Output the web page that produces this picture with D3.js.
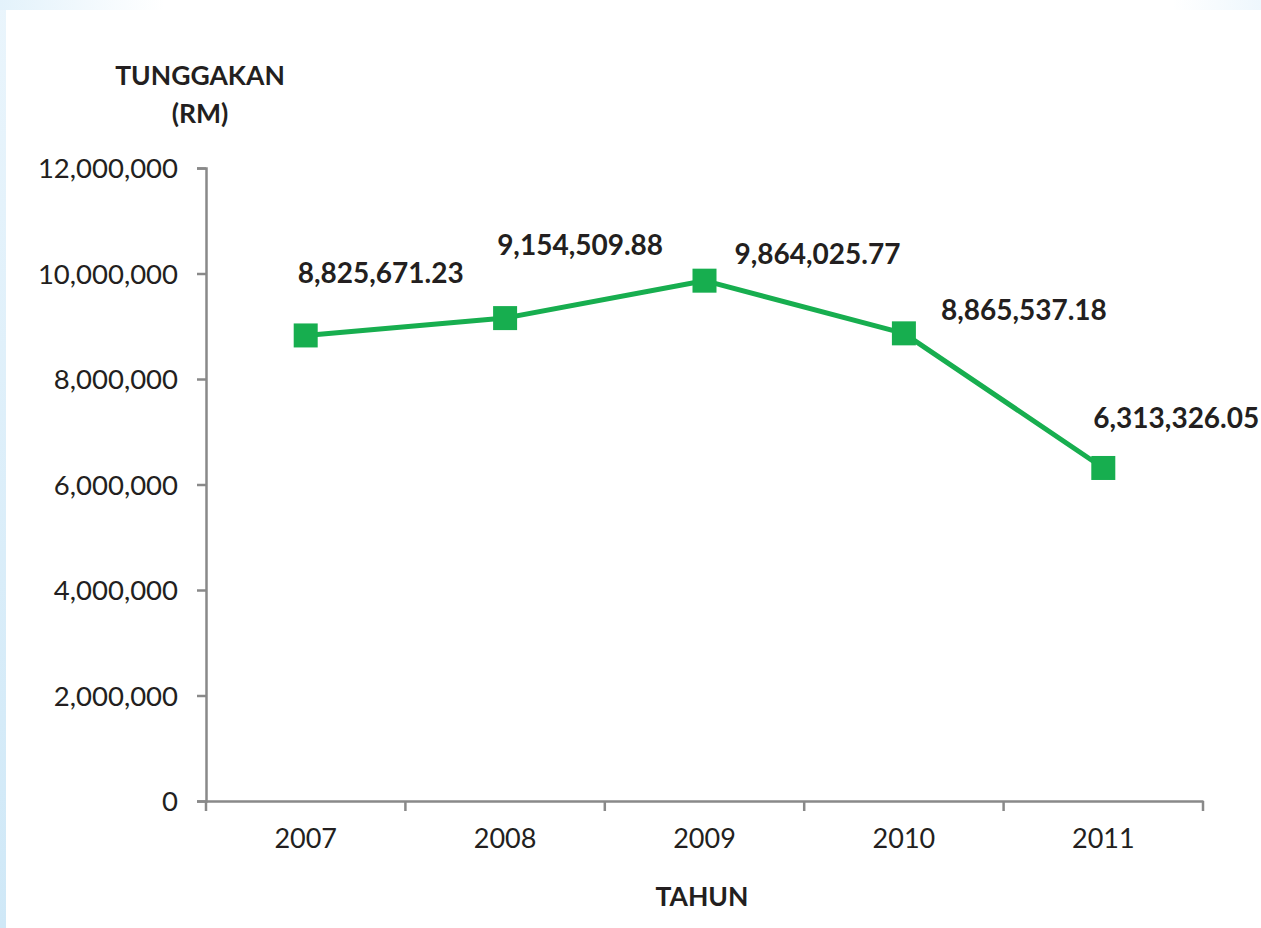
<!DOCTYPE html>
<html><head><meta charset="utf-8">
<script src="https://cdn.jsdelivr.net/npm/d3@7"></script>
<style>
html,body{margin:0;padding:0;background:#fff;}
svg{display:block;}
</style></head>
<body>
<svg id="chart" width="1261" height="928"></svg>
<script>
const years = ["2007","2008","2009","2010","2011"];
const values = [8825671.23, 9154509.88, 9864025.77, 8865537.18, 6313326.05];
const valueLabels = ["8,825,671.23","9,154,509.88","9,864,025.77","8,865,537.18","6,313,326.05"];
const yTicks = [0, 2000000, 4000000, 6000000, 8000000, 10000000, 12000000];
const yTitle = ["TUNGGAKAN", "(RM)"];
const xTitle = "TAHUN";
// label offsets relative to marker (styling)
const labelDx = [75, 75, 113, 120, 73];
const labelDy = [-52, -63, -17, -13, -40];

const svg = d3.select("#chart");
const W = 1261, H = 928;
const font = "Lato, 'Open Sans', sans-serif";

// background frame
const defs = svg.append("defs");
const g1 = defs.append("linearGradient").attr("id","bgl").attr("x1","0").attr("x2","0").attr("y1","0").attr("y2","1");
g1.append("stop").attr("offset","0").attr("stop-color","#eaf5fc");
g1.append("stop").attr("offset","1").attr("stop-color","#cfe8f7");
const g2 = defs.append("linearGradient").attr("id","bgt").attr("x1","0").attr("x2","1").attr("y1","0").attr("y2","0");
g2.append("stop").attr("offset","0").attr("stop-color","#e3f2fb");
g2.append("stop").attr("offset","0.13").attr("stop-color","#ffffff");
g2.append("stop").attr("offset","0.93").attr("stop-color","#ffffff");
g2.append("stop").attr("offset","1").attr("stop-color","#eef7fd");
svg.append("rect").attr("x",0).attr("y",0).attr("width",W).attr("height",H).attr("fill","url(#bgl)");
svg.append("rect").attr("x",0).attr("y",0).attr("width",W).attr("height",10).attr("fill","url(#bgt)");
svg.append("rect").attr("x",6).attr("y",10).attr("width",W-6).attr("height",H-10).attr("fill","#fff");

const x = d3.scaleBand().domain(years).range([206, 1203]).paddingInner(0).paddingOuter(0);
const y = d3.scaleLinear().domain([0, 12000000]).range([801, 168]);

const axisColor = "#898989";
const textColor = "#231f20";

// y axis
const yAxis = svg.append("g").attr("transform","translate(206,0)")
  .call(d3.axisLeft(y).tickValues(yTicks).tickSize(9).tickPadding(19).tickFormat(d3.format(",")));
yAxis.select(".domain").attr("stroke",axisColor).attr("stroke-width",2.5);
yAxis.selectAll(".tick line").attr("stroke",axisColor).attr("stroke-width",2.5);
yAxis.selectAll(".tick text").attr("font-family",font).attr("font-size",27.5).attr("fill",textColor).attr("dy","0.35em");

// x axis
const xAxis = svg.append("g").attr("transform","translate(0,801)")
  .call(d3.axisBottom(x).tickSize(0).tickPadding(28));
xAxis.select(".domain").attr("stroke",axisColor).attr("stroke-width",2.5);
xAxis.selectAll(".tick text").attr("font-family",font).attr("font-size",27).attr("fill",textColor);
// band boundary ticks
const bounds = years.map(d => x(d)).concat([x(years[years.length-1]) + x.bandwidth()]);
svg.append("g").selectAll("line").data(bounds).join("line")
  .attr("x1",d=>d).attr("x2",d=>d).attr("y1",801).attr("y2",811)
  .attr("stroke",axisColor).attr("stroke-width",2.5);

const cx = d => x(d) + x.bandwidth()/2;

// line
const pts = years.map((d,i)=>[cx(d), y(values[i])]);
svg.append("path").attr("d", d3.line()(pts))
  .attr("fill","none").attr("stroke","#17ae4f").attr("stroke-width",5).attr("stroke-linejoin","round");

// markers
const s = 24;
svg.append("g").selectAll("rect").data(pts).join("rect")
  .attr("x",d=>d[0]-s/2).attr("y",d=>d[1]-s/2).attr("width",s).attr("height",s)
  .attr("fill","#17ae4f");

// value labels
svg.append("g").selectAll("text").data(pts).join("text")
  .attr("x",(d,i)=>d[0]+labelDx[i]).attr("y",(d,i)=>d[1]+labelDy[i])
  .attr("text-anchor","middle").attr("font-family",font).attr("font-weight","bold")
  .attr("font-size",28).attr("fill",textColor)
  .text((d,i)=>valueLabels[i]);

// y title
svg.append("text").attr("x",200).attr("y",85).attr("text-anchor","middle")
  .attr("font-family",font).attr("font-weight","bold").attr("font-size",26.5).attr("fill",textColor).text(yTitle[0]);
svg.append("text").attr("x",200).attr("y",123).attr("text-anchor","middle")
  .attr("font-family",font).attr("font-weight","bold").attr("font-size",26.5).attr("fill",textColor).text(yTitle[1]);

// x title
svg.append("text").attr("x",702).attr("y",906).attr("text-anchor","middle")
  .attr("font-family",font).attr("font-weight","bold").attr("font-size",26.5).attr("fill",textColor).text(xTitle);
</script>
</body></html>
